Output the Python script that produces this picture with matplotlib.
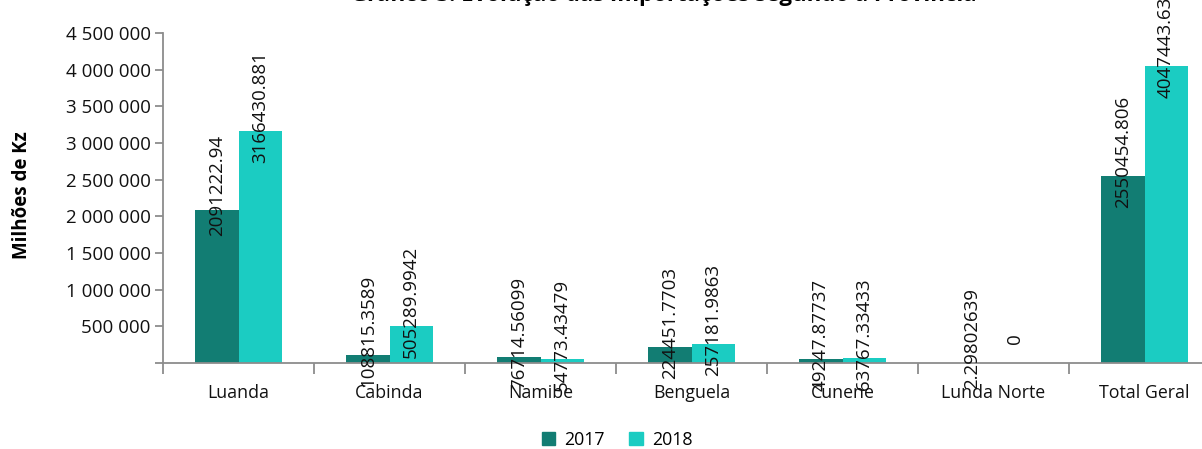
import matplotlib.pyplot as plt
from matplotlib.patches import Patch
from matplotlib.ticker import FuncFormatter, FixedLocator

# Data
categories = ["Luanda", "Cabinda", "Namibe", "Benguela", "Cunene", "Lunda Norte", "Total Geral"]
values_2017 = [2091222.94, 108815.3589, 76714.56099, 224451.7703, 49247.87737, 2.29802639, 2550454.806]
values_2018 = [3166430.881, 505289.9942, 54773.43479, 257181.9863, 63767.33433, 0, 4047443.631]
series_names = ["2017", "2018"]
y_ticks = [0, 500000, 1000000, 1500000, 2000000, 2500000, 3000000, 3500000, 4000000, 4500000]

c2017 = "#127d73"
c2018 = "#1bccc2"
axis_grey = "#8c8c8c"

plt.rcParams['font.family'] = ['Open Sans', 'DejaVu Sans']

W, H = 1202, 449
fig = plt.figure(figsize=(W / 100, H / 100), dpi=100)
ax = fig.add_axes([163 / W, (H - 363) / H, (1220 - 163) / W, (363 - 33) / H])

x = list(range(len(categories)))
bw = 0.285
b1 = ax.bar([i - bw / 2 for i in x], values_2017, width=bw, color=c2017)
b2 = ax.bar([i + bw / 2 for i in x], values_2018, width=bw, color=c2018)

# data labels, rotated, centred a bit above each bar top
for bars, vals in ((b1, values_2017), (b2, values_2018)):
    for rect, v in zip(bars, vals):
        ax.annotate(f"{v:.10g}", (rect.get_x() + rect.get_width() / 2, v),
                    xytext=(0, 24), textcoords="offset pixels",
                    rotation=90, ha="center", va="center",
                    fontsize=13.5, color="#111111", annotation_clip=False)

ax.set_xlim(-0.5, len(categories) - 0.5)
ax.set_ylim(0, 4500000)

ax.yaxis.set_major_locator(FixedLocator(y_ticks))
ax.yaxis.set_major_formatter(FuncFormatter(lambda v, p: "" if v == 0 else f"{int(v):,}".replace(",", " ")))
ax.tick_params(axis="y", length=6, width=1.3, color=axis_grey, pad=3, labelsize=13.5, labelcolor="#111111")

ax.set_xticks(x)
ax.set_xticklabels(categories)
ax.set_xticks([i - 0.5 for i in range(len(categories) + 1)], minor=True)
ax.tick_params(axis="x", which="major", length=0, pad=15, labelsize=12.8, labelcolor="#111111")
ax.tick_params(axis="x", which="minor", length=8, width=1.3, color=axis_grey)

for s in ("top", "right"):
    ax.spines[s].set_visible(False)
for s in ("left", "bottom"):
    ax.spines[s].set_color(axis_grey)
    ax.spines[s].set_linewidth(1.3)

fig.text(22 / W, 1 - 195 / H, "Milhões de Kz", rotation=90, ha="center", va="center",
         fontsize=13.5, fontweight="bold")

fig.text(664 / W, 1 - 1 / H, "Gráfico 3: Evolução das Importações segundo a Província",
         ha="center", va="baseline", fontsize=16, fontweight="bold")

handles = [Patch(color=c2017), Patch(color=c2018)]
fig.legend(handles, series_names, loc="center", bbox_to_anchor=(617 / W, 1 - 440 / H),
           ncol=2, frameon=False, fontsize=12.8, handlelength=0.75, handleheight=0.75,
           handletextpad=0.5, columnspacing=1.4)

fig.savefig("out.png", dpi=100)
